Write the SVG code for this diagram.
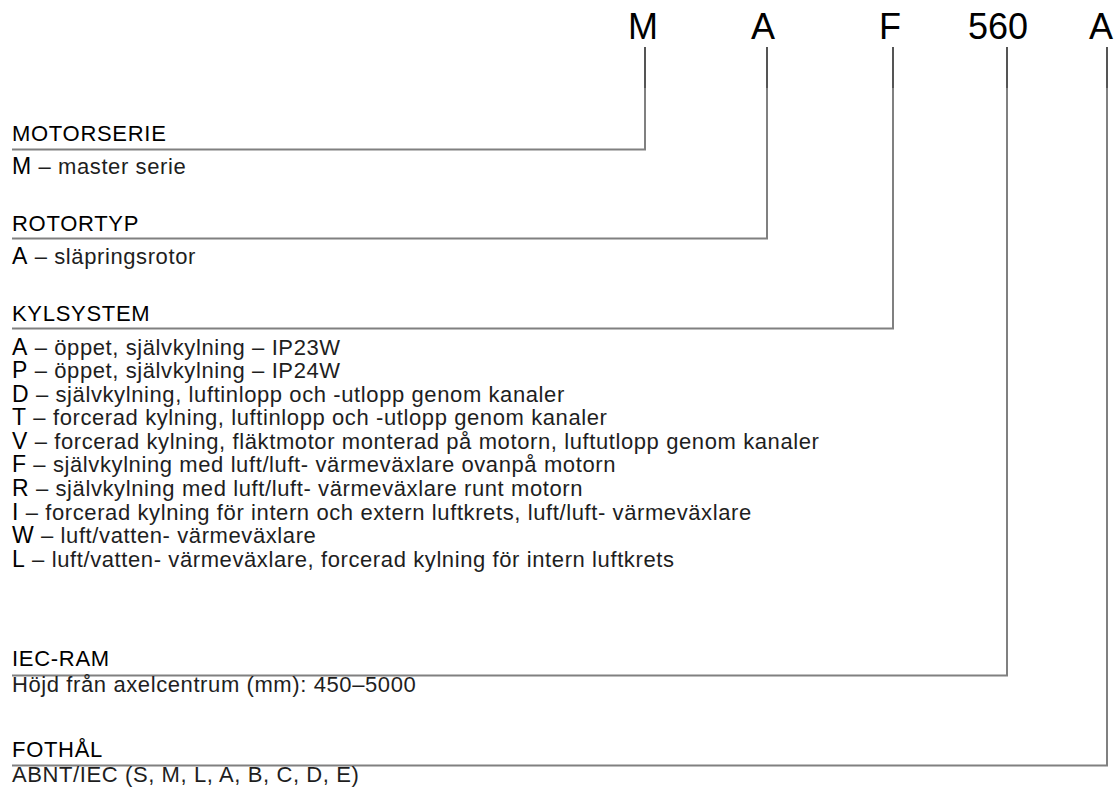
<svg xmlns="http://www.w3.org/2000/svg" width="1119" height="794" viewBox="0 0 1119 794">
<style>
.code{font-family:"Liberation Sans",Arial,sans-serif;font-size:36px;fill:#000}
.hdr{font-family:"Liberation Sans",Arial,sans-serif;font-size:22px;fill:#000;letter-spacing:0.7px}
.body{font-family:"Liberation Sans",Arial,sans-serif;font-size:22px;fill:#1e1e1e;letter-spacing:0.6px}
.pre{font-size:23px;fill:#000}
.ln{fill:none;stroke:#808080;stroke-width:2}
.tk{fill:none;stroke:#555;stroke-width:2}
</style>
<rect width="1119" height="794" fill="#fff"/>
<g id="code">
<text class="code" x="643" y="39" text-anchor="middle">M</text>
<text class="code" x="763" y="39" text-anchor="middle">A</text>
<text class="code" x="890" y="39" text-anchor="middle">F</text>
<text class="code" x="998" y="39" text-anchor="middle">560</text>
<text class="code" x="1101" y="39" text-anchor="middle">A</text>
</g>
<g id="connectors">
<path class="ln" d="M645 88V149.5H12"/>
<path class="ln" d="M767 88V238.5H12"/>
<path class="ln" d="M893 88V328.5H12"/>
<path class="ln" d="M1007 88V675.5H12"/>
<path class="ln" d="M1107 88V765.5H12"/>
<path class="tk" d="M645 47V88M767 47V88M893 47V88M1007 47V88M1107 47V88"/>
</g>
<g id="motorserie">
<text class="hdr" x="12" y="141">MOTORSERIE</text>
<text class="body" x="12" y="174"><tspan class="pre">M</tspan> – master serie</text>
</g>
<g id="rotortyp">
<text class="hdr" x="12" y="231">ROTORTYP</text>
<text class="body" x="12" y="264"><tspan class="pre">A</tspan> – släpringsrotor</text>
</g>
<g id="kylsystem">
<text class="hdr" x="12" y="321">KYLSYSTEM</text>
<text class="body" x="12" y="354.5"><tspan class="pre">A</tspan> – öppet, självkylning – IP23W</text>
<text class="body" x="12" y="378"><tspan class="pre">P</tspan> – öppet, självkylning – IP24W</text>
<text class="body" x="12" y="401.6"><tspan class="pre">D</tspan> – självkylning, luftinlopp och -utlopp genom kanaler</text>
<text class="body" x="12" y="425.2"><tspan class="pre">T</tspan> – forcerad kylning, luftinlopp och -utlopp genom kanaler</text>
<text class="body" x="12" y="448.8"><tspan class="pre">V</tspan> – forcerad kylning, fläktmotor monterad på motorn, luftutlopp genom kanaler</text>
<text class="body" x="12" y="472.4"><tspan class="pre">F</tspan> – självkylning med luft/luft- värmeväxlare ovanpå motorn</text>
<text class="body" x="12" y="496"><tspan class="pre">R</tspan> – självkylning med luft/luft- värmeväxlare runt motorn</text>
<text class="body" x="12" y="519.6"><tspan class="pre">I</tspan> – forcerad kylning för intern och extern luftkrets, luft/luft- värmeväxlare</text>
<text class="body" x="12" y="543.2"><tspan class="pre">W</tspan> – luft/vatten- värmeväxlare</text>
<text class="body" x="12" y="566.8"><tspan class="pre">L</tspan> – luft/vatten- värmeväxlare, forcerad kylning för intern luftkrets</text>
</g>
<g id="iec-ram">
<text class="hdr" x="12" y="666">IEC-RAM</text>
<text class="body" x="12" y="692">Höjd från axelcentrum (mm): 450–5000</text>
</g>
<g id="fothal">
<text class="hdr" x="12" y="757">FOTHÅL</text>
<text class="body" x="12" y="782">ABNT/IEC (S, M, L, A, B, C, D, E)</text>
</g>
</svg>
